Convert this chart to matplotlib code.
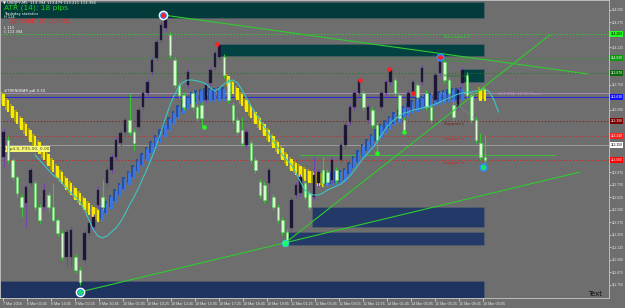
import numpy as np
import matplotlib
matplotlib.use('Agg')
import matplotlib.pyplot as plt
from matplotlib.patches import Rectangle

# USDJPY candles, oldest first
opens = [113.03, 113.20, 113.00, 112.83, 112.63, 112.57, 112.77, 112.77, 112.53, 112.53,
         112.65, 112.53, 112.40, 112.27, 112.03, 112.03, 112.03, 111.90, 112.00, 112.27,
         112.33, 112.55, 112.63, 112.77, 112.90, 113.03, 113.17, 113.28, 113.40, 113.28,
         113.33, 113.53, 113.67, 113.88, 114.02, 114.20, 114.32, 114.25, 114.00, 113.75,
         113.65, 113.75, 113.67, 113.53, 113.55, 113.60, 113.77, 113.93, 114.03, 114.03,
         113.78, 113.55, 113.40, 113.30, 113.15, 113.17, 113.00, 112.78, 112.75, 112.77,
         112.63, 112.53, 112.40, 112.28, 112.32, 112.65, 112.67, 112.77, 112.67, 112.63,
         112.77, 112.90, 112.88, 112.80, 112.90, 113.00, 113.15, 113.38, 113.53, 113.67,
         113.67, 113.40, 113.50, 113.35, 113.53, 113.67, 113.78, 113.80, 113.65, 113.40,
         113.53, 113.67, 113.75, 113.78, 113.67, 113.53, 113.60, 113.87, 113.98, 113.80,
         113.55, 113.53, 113.77, 113.85, 113.65, 113.40, 113.17, 113.03]
closes = [113.28, 113.00, 112.83, 112.67, 112.53, 112.73, 112.90, 112.53, 112.40, 112.70,
          112.53, 112.40, 112.27, 112.03, 112.28, 112.30, 111.90, 111.78, 112.27, 112.37,
          112.43, 112.70, 112.53, 112.90, 113.03, 113.20, 113.27, 113.40, 113.28, 113.17,
          113.50, 113.67, 113.78, 114.00, 114.18, 114.35, 114.43, 114.05, 113.75, 113.65,
          113.53, 113.88, 113.53, 113.42, 113.42, 113.75, 113.90, 114.07, 114.15, 113.85,
          113.60, 113.40, 113.28, 113.17, 113.28, 113.00, 112.90, 112.65, 112.60, 112.90,
          112.53, 112.40, 112.28, 112.18, 112.60, 112.75, 112.83, 112.63, 112.53, 112.85,
          112.88, 112.77, 112.78, 113.00, 112.80, 113.15, 113.35, 113.53, 113.67, 113.80,
          113.53, 113.53, 113.35, 113.20, 113.67, 113.78, 113.90, 113.67, 113.42, 113.30,
          113.67, 113.78, 113.63, 113.92, 113.53, 113.40, 113.85, 114.03, 113.80, 113.67,
          113.43, 113.70, 113.90, 113.65, 113.40, 113.20, 113.03, 113.00]
highs = [113.32, 113.24, 113.02, 112.85, 112.66, 112.75, 112.93, 112.80, 112.56, 112.77,
         112.68, 112.77, 112.42, 112.30, 112.31, 112.34, 112.06, 111.93, 112.30, 112.40,
         112.46, 112.74, 112.80, 112.93, 113.06, 113.23, 113.30, 113.43, 113.67, 113.31,
         113.53, 113.70, 113.81, 114.03, 114.21, 114.38, 114.46, 114.28, 114.03, 113.78,
         113.68, 113.91, 113.70, 113.56, 113.58, 113.78, 113.93, 114.10, 114.16, 114.06,
         113.81, 113.58, 113.43, 113.43, 113.31, 113.20, 113.03, 112.81, 112.78, 112.93,
         112.66, 112.56, 112.43, 112.31, 112.63, 112.78, 112.86, 112.80, 112.70, 113.03,
         112.91, 113.03, 112.91, 113.03, 112.93, 113.18, 113.38, 113.56, 113.70, 113.82,
         113.70, 113.56, 113.53, 113.38, 113.70, 113.81, 113.92, 113.83, 113.68, 113.43,
         113.70, 113.81, 113.78, 113.95, 113.70, 113.56, 113.88, 114.05, 114.01, 113.83,
         113.58, 113.73, 113.93, 113.88, 113.68, 113.43, 113.27, 113.25]
lows = [112.93, 112.97, 112.80, 112.63, 112.43, 112.33, 112.74, 112.50, 112.37, 112.50,
        112.49, 112.38, 112.24, 112.00, 111.93, 111.93, 111.87, 111.75, 111.97, 112.24,
        112.30, 112.52, 112.50, 112.74, 112.87, 113.00, 113.14, 113.25, 113.25, 113.10,
        113.30, 113.50, 113.64, 113.85, 113.99, 114.17, 114.29, 114.02, 113.72, 113.62,
        113.50, 113.72, 113.50, 113.39, 113.33, 113.57, 113.74, 113.90, 114.00, 113.82,
        113.57, 113.37, 113.25, 113.14, 113.12, 112.97, 112.87, 112.62, 112.57, 112.60,
        112.50, 112.37, 112.25, 112.17, 112.29, 112.62, 112.64, 112.60, 112.50, 112.60,
        112.74, 112.74, 112.75, 112.77, 112.77, 112.97, 113.12, 113.35, 113.50, 113.64,
        113.50, 113.37, 113.32, 113.07, 113.50, 113.64, 113.75, 113.64, 113.39, 113.28,
        113.50, 113.64, 113.60, 113.75, 113.50, 113.37, 113.57, 113.84, 113.77, 113.64,
        113.40, 113.50, 113.74, 113.62, 113.37, 113.17, 113.00, 112.93]

# trend ribbon (middle of each bar), nan where nothing is drawn
nan = np.nan
ribbon_mid = [113.60, 113.54, 113.48, 113.42, 113.36, 113.30, 113.24, 113.18, 113.12, 113.06,
              113.00, 112.94, 112.88, 112.82, 112.76, 112.71, 112.66, 112.61, 112.56, 112.51,
              112.47, 112.44, 112.45, 112.51, 112.57, 112.63, 112.69, 112.75, 112.81, 112.87,
              112.93, 112.99, 113.05, 113.11, 113.17, 113.23, 113.29, 113.35, 113.41, 113.47,
              113.52, 113.56, 113.60, 113.62, 113.63, 113.64, 113.64, 113.64, 113.65, 113.65,
              113.78, 113.72, 113.66, 113.60, 113.54, 113.48, 113.42, 113.36, 113.30, 113.24,
              113.18, 113.12, 113.06, 113.00, 112.95, 112.91, 112.88, 112.85, 112.83, 112.81,
              112.80, 112.79, 112.80, 112.80, 112.81, 112.82, 112.84, 112.90, 112.96, 113.02,
              113.08, 113.13, 113.18, 113.23, 113.28, 113.32, 113.36, 113.40, 113.43, 113.46,
              113.49, 113.52, 113.54, 113.56, 113.58, 113.59, 113.60, 113.61, 113.62, 113.63,
              113.64, 113.64, 113.65, nan, nan, nan, 113.65, 113.65]
# (direction, first candle, last candle)
ribbon_parts = [('down', 0, 21), ('up', 22, 49), ('down', 50, 71), ('up', 72, 102), ('down', 106, 107)]

# cyan moving average, starts at candle 7, runs a little past the last candle
cyan_start = 7
cyan_ma = [113.05, 113.00, 112.95, 112.90, 112.85, 112.82, 112.77, 112.72, 112.67, 112.63,
           112.58, 112.50, 112.40, 112.30, 112.24, 112.22, 112.24, 112.28, 112.32, 112.38,
           112.46, 112.55, 112.63, 112.72, 112.82, 112.92, 113.03, 113.15, 113.28, 113.42,
           113.55, 113.65, 113.74, 113.78, 113.80, 113.80, 113.79, 113.78, 113.76, 113.72,
           113.69, 113.72, 113.76, 113.79, 113.80, 113.77, 113.70, 113.62, 113.54, 113.47,
           113.40, 113.33, 113.26, 113.19, 113.12, 113.05, 113.00, 112.95, 112.87, 112.78,
           112.70, 112.66, 112.65, 112.65, 112.67, 112.70, 112.72, 112.74, 112.76, 112.80,
           112.84, 112.90, 112.96, 113.02, 113.07, 113.12, 113.18, 113.25, 113.32, 113.37,
           113.41, 113.44, 113.47, 113.48, 113.50, 113.51, 113.52, 113.53, 113.54, 113.56,
           113.58, 113.60, 113.62, 113.64, 113.66, 113.67, 113.68, 113.68, 113.69, 113.70,
           113.71, 113.68, 113.60, 113.48]

# supply / demand zones: x from, x to (candle index), price low, price high
zone_x0 = [-0.8, 47.7, 102.1, 68.6, 63.0, -0.8]
zone_x1 = [106.8, 106.8, 106.8, 106.8, 106.8, 106.8]
zone_lo = [114.42, 114.04, 113.78, 112.33, 112.15, 111.62]
zone_hi = [114.58, 114.16, 113.91, 112.53, 112.28, 111.79]
zone_col = ['#033a3a', '#034242', '#034242', '#233a68', '#233a68', '#1f3360']

# pivot levels
level_names = ['Resistance 3', 'Resistance 2', 'Resistance 1', 'Support 1', 'Support 2', 'Support 3']
level_price = [114.26, 114.02, 113.87, 113.39, 113.24, 113.00]
level_col = ['#22dd22', '#2a9a2a', '#1f7a1f', '#7a1c1c', '#d02a2a', '#e01c1c']

# trend lines: (x0, p0, x1, p1)
trendlines = [(35.5, 114.45, 129.9, 113.86),
              (17.0, 111.68, 128.1, 112.88),
              (62.6, 112.17, 121.4, 114.25)]

swing_hi_x = [47.4, 79.2, 85.7, 91.0]
swing_hi_p = [114.16, 113.80, 113.91, 113.67]
swing_lo_x = [44.6, 83.0, 89.0]
swing_lo_p = [113.33, 113.07, 113.28]

# price labels on the right scale (coloured ones are line labels)
price_ticks = [114.500, 114.375, 114.125, 113.750, 113.500, 112.875, 112.750, 112.625,
               112.500, 112.375, 112.250, 112.125, 112.000, 111.875, 111.750]
box_prices = [114.26, 114.02, 113.87, 113.63, 113.39, 113.24, 113.15, 113.00]
box_cols = ['#22ff22', '#0c9a0c', '#0b6a0b', '#1010ff', '#7a0000', '#ff2020', '#ffffff', '#ff0000']
box_text = ['black', 'white', 'white', 'white', 'white', 'white', 'black', 'white']

time_ticks = [-0.1, 5.2, 10.6, 15.9, 21.2, 26.6, 31.9, 37.2, 42.6, 47.9, 53.2,
              58.6, 63.9, 69.2, 74.6, 79.9, 85.2, 90.6, 95.9, 101.2, 106.6]
time_labels = ['7 Mar 2016', '8 Mar 03:45', '8 Mar 16:05', '9 Mar 00:25', '9 Mar 10:45',
               '10 Mar 01:05', '10 Mar 10:25', '10 Mar 13:45', '10 Mar 15:05', '10 Mar 17:25',
               '10 Mar 18:45', '10 Mar 19:05', '11 Mar 01:25', '11 Mar 03:45', '11 Mar 09:05',
               '11 Mar 12:25', '14 Mar 01:45', '14 Mar 05:05', '15 Mar 05:25', '15 Mar 09:45',
               '16 Mar 00:05']

SCALE_FONT = 'Liberation Sans'
BG = '#6e6e6e'
fig = plt.figure(figsize=(6.25, 3.08), dpi=100, facecolor=BG)
ax = fig.add_axes([0, 10 / 308, 609 / 625, 298 / 308])
ax.set_facecolor(BG)
ax.set_xlim(-0.78, 134.56)
ax.set_ylim(111.62, 114.60)

# zones
for x0, x1, lo, hi, c in zip(zone_x0, zone_x1, zone_lo, zone_hi, zone_col):
    ax.add_patch(Rectangle((x0, lo), x1 - x0, hi - lo, facecolor=c,
                           edgecolor='#56606a', lw=0.4, zorder=1))

# horizontal lines
for p, c in zip(level_price, level_col):
    ax.axhline(p, color=c, lw=0.7, ls=(0, (1.2, 2)), zorder=2)
ax.axhline(113.67, color='#b28fc4', lw=0.6, zorder=2)
ax.axhline(113.63, color='#2a2ad8', lw=0.8, zorder=2)
ax.axhline(113.15, color='#9c9c9c', lw=0.7, zorder=2)
ax.plot([65.9, 122.6], [113.05, 113.05], color='#3cbe3c', lw=0.7, zorder=2)

# ribbon
mid = np.array(ribbon_mid)
for kind, a, b in ribbon_parts:
    xs = np.arange(a, b + 1)
    face, dark = ('#f5ea00', '#a89a12') if kind == 'down' else ('#3c74e0', '#27519e')
    ax.bar(xs - 0.3, 0.12, bottom=mid[a:b + 1] - 0.04, width=0.55, color=dark, zorder=3)
    ax.bar(xs + 0.05, 0.12, bottom=mid[a:b + 1] - 0.06, width=0.55, color=face, zorder=3)

# candles
o = np.array(opens)
c = np.array(closes)
h = np.array(highs)
l = np.array(lows)
x = np.arange(len(o))
up = c >= o
ax.vlines(x[up], l[up], h[up], color='#7443a8', lw=0.8, zorder=4)
ax.vlines(x[~up], l[~up], h[~up], color='#36c836', lw=0.8, zorder=4)
ax.bar(x[up], (c - o)[up], bottom=o[up], width=0.65, color='#1b1531',
       edgecolor='#2c2350', lw=0.3, zorder=5)
ax.bar(x[~up], (o - c)[~up], bottom=c[~up], width=0.65, color='#d4fbcc',
       edgecolor='#62d262', lw=0.5, zorder=5)

# moving average
ax.plot(np.arange(cyan_start, cyan_start + len(cyan_ma)), cyan_ma,
        color='#3fc4c4', lw=0.8, zorder=6)

# trend lines
for x0, p0, x1, p1 in trendlines:
    ax.plot([x0, x1], [p0, p1], color='#2ecc2e', lw=0.8, zorder=6)
ax.plot([97.7, 105.5], [113.67, 113.38], color='#8a9ac0', lw=0.6, ls=':', zorder=6)

# swing markers
ax.scatter(swing_hi_x, swing_hi_p, s=5, color='#ff2020', zorder=7)
ax.scatter(swing_lo_x, swing_lo_p, s=5, color='#20ff20', zorder=7)
ax.plot(35.4, 114.45, 'o', ms=6, mfc='#2a8cff', mec='white', mew=1, zorder=8)
ax.plot(35.4, 114.45, 'o', ms=2.5, color='#ff2020', zorder=9)
ax.plot(97.0, 114.03, 'o', ms=5, mfc='#2a8cff', mec='#2a8cff', zorder=8)
ax.plot(97.0, 114.03, 'o', ms=2.5, color='#ff2020', zorder=9)
ax.plot(17.0, 111.68, 'o', ms=6, mfc='#2a8cff', mec='white', mew=1, zorder=8)
ax.plot(17.0, 111.68, 'o', ms=2.5, color='#20e060', zorder=9)
ax.plot(62.6, 112.17, 'o', ms=4.5, mfc='#20ff60', mec='#30d0d0', mew=0.8, zorder=8)
ax.plot(106.6, 112.93, 'o', ms=5, mfc='#20e060', mec='#2a8cff', mew=1, zorder=8)

# level labels
for n, p, col in zip(level_names, level_price, level_col):
    ax.text(98.0, p - 0.03, n, fontsize=3.0, color=col, va='center', zorder=9)

# right price scale
ax.yaxis.tick_right()
ax.set_yticks(price_ticks)
ax.set_yticklabels([f'{t:.3f}' for t in price_ticks], family=SCALE_FONT)
ax.tick_params(axis='y', labelsize=2.4, colors='#e6e6e6', length=1.2, width=0.5, pad=0.8)
ax.set_xticks(time_ticks)
ax.set_xticklabels(time_labels, family=SCALE_FONT)
ax.tick_params(axis='x', labelsize=2.7, colors='#e6e6e6', length=2, width=0.5, pad=1)
for lab in ax.get_xticklabels():
    lab.set_horizontalalignment('left')
for s in ax.spines.values():
    s.set_color('#c8c8c8')
    s.set_linewidth(0.6)

yt = ax.get_yaxis_transform()
for p, fc, tc in zip(box_prices, box_cols, box_text):
    ax.text(1.003, p, f'{p:.3f}', transform=yt, fontsize=2.4, color=tc, va='center', ha='left',
            family=SCALE_FONT, bbox=dict(boxstyle='square,pad=0.2', fc=fc, ec='none'),
            clip_on=False, zorder=10)

# info texts
ta = ax.transAxes
ax.text(0.005, 0.996, '\u25bc USDJPY,M5  113.394 113.479 113.211 113.394', transform=ta,
        fontsize=2.7, color='white', va='top')
ax.text(0.007, 0.984, 'ATR (14): 18 pips', transform=ta, fontsize=5.4, color='#1fd01f', va='top')
ax.text(0.007, 0.961, 'Tradeday statistics', transform=ta, fontsize=2.6, color='white', va='top')
ax.text(0.007, 0.950, 'H 114', transform=ta, fontsize=2.6, color='white', va='top')
ax.text(0.016, 0.939, 'Spread: 16 points.', transform=ta, fontsize=4.8, color='#ff2222', va='top')
ax.text(0.007, 0.913, 'L 113', transform=ta, fontsize=2.6, color='white', va='top')
ax.text(0.007, 0.900, 'C 113.394', transform=ta, fontsize=2.6, color='white', va='top')
ax.text(0.006, 0.695, '#TRENDBAR pdl 0.10', transform=ta, fontsize=2.7, color='white', va='center')
ax.text(0.006, 0.500, '1: p4.0, P35.00, 0.00', transform=ta, fontsize=3.2, color='#404040',
        va='center', bbox=dict(boxstyle='square,pad=0.3', fc='#f8f870', ec='none'))
ax.text(110.0, 113.655, '113.394, 10 10 Short', fontsize=3.0, color='#c090d0', va='center', zorder=9)
fig.text(588 / 625, 1 - 294 / 308, 'Text', fontsize=5, color='#101010', va='center')

fig.savefig('out.png', dpi=100, facecolor=BG)
